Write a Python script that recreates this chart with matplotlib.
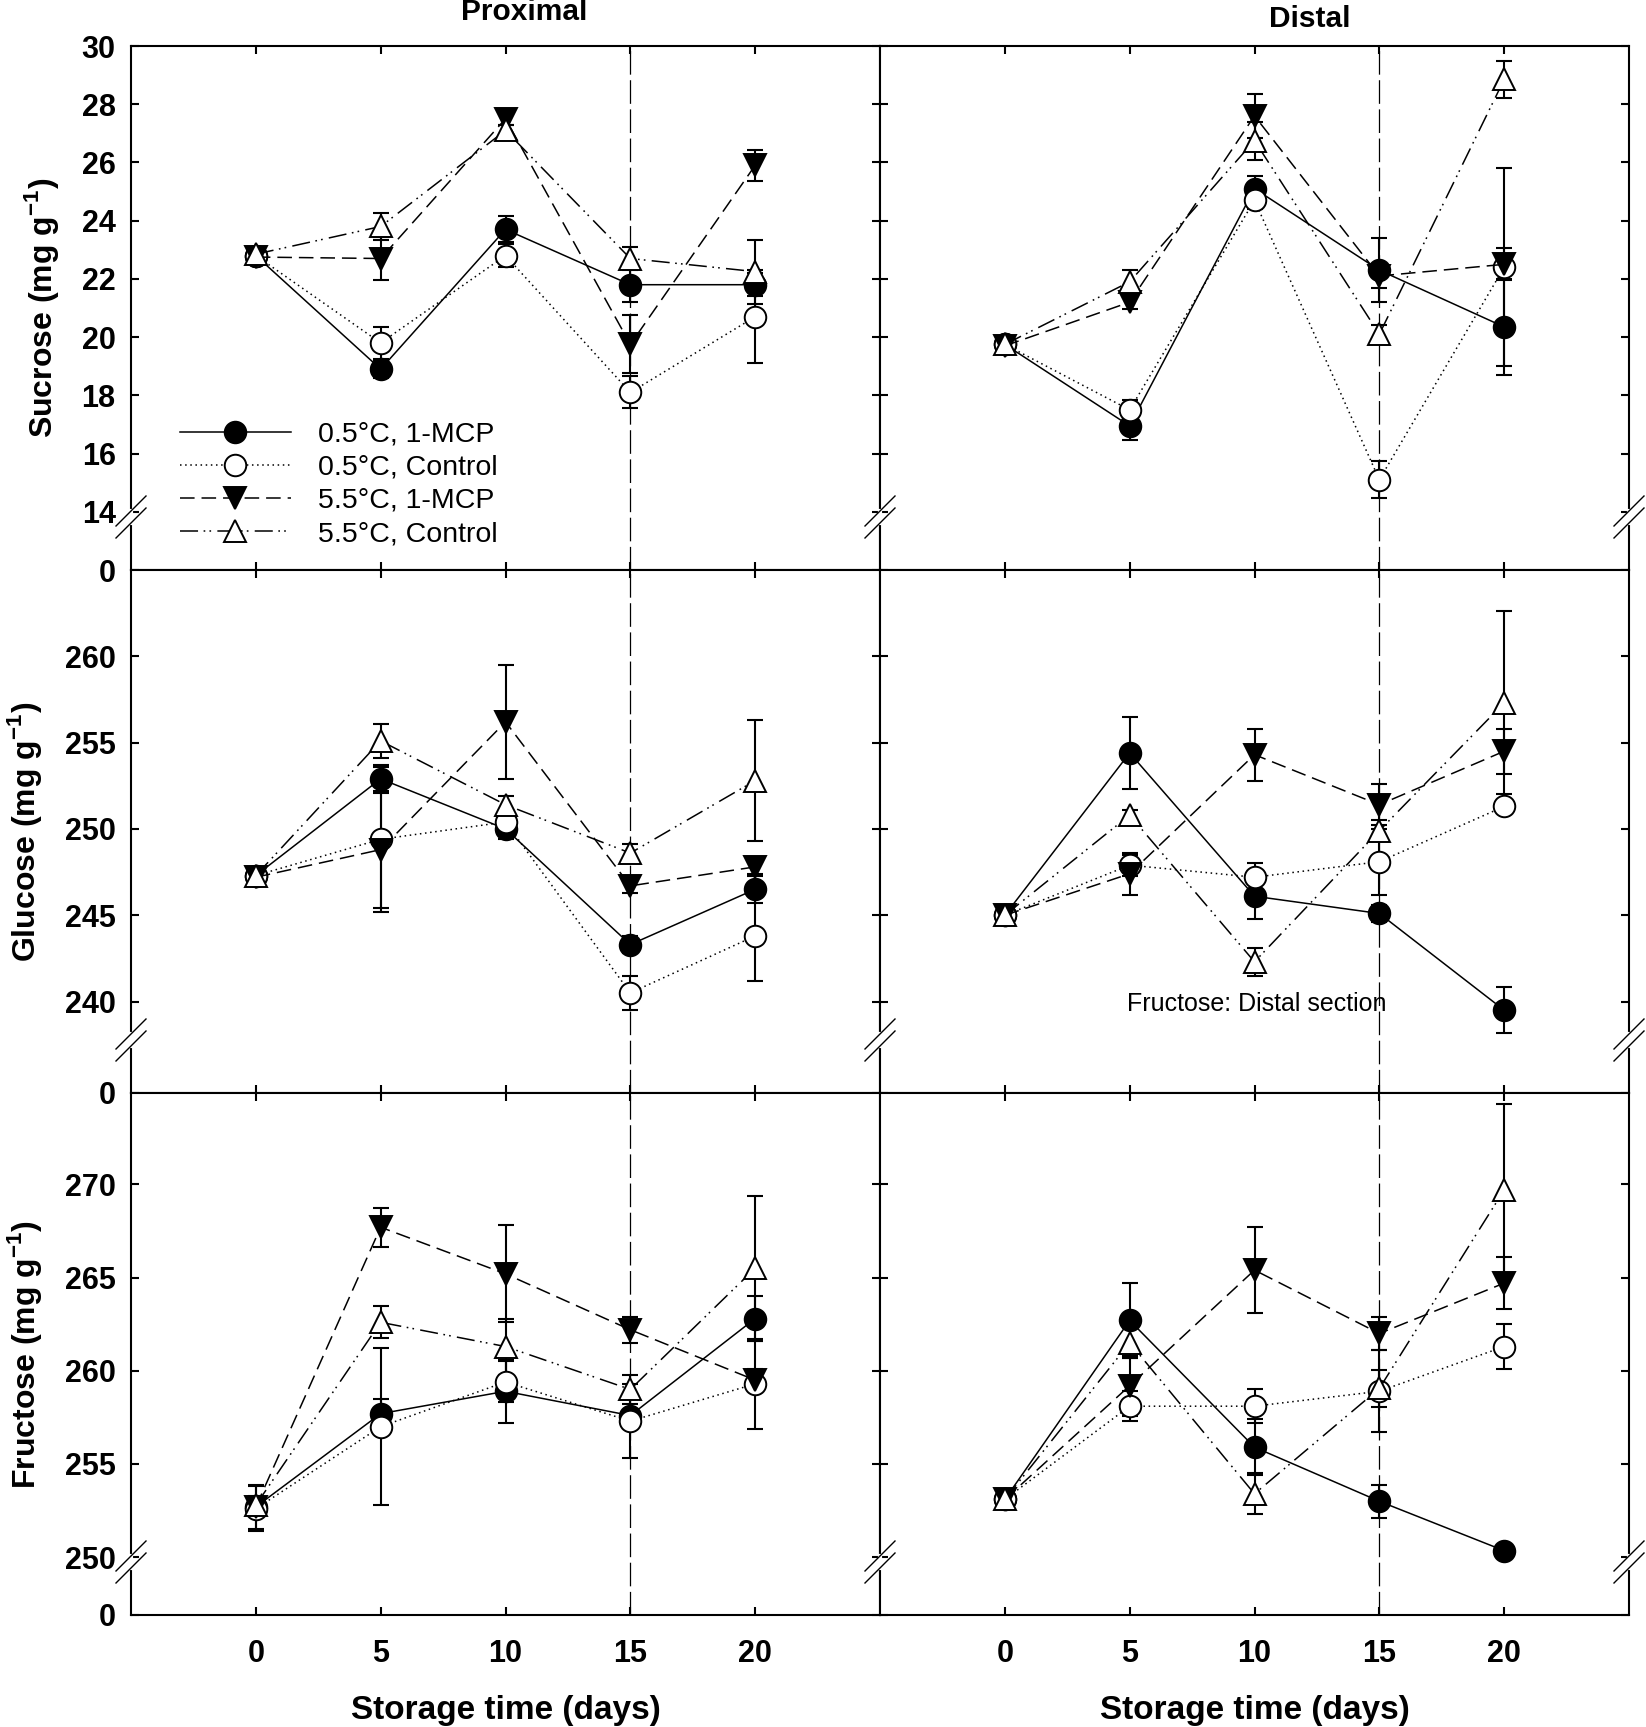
import matplotlib
matplotlib.use('Agg')
import matplotlib.pyplot as plt
from matplotlib.lines import Line2D

plt.rcParams['font.family'] = ['Liberation Sans', 'DejaVu Sans']
plt.rcParams['font.weight'] = 'bold'
plt.rcParams['lines.scale_dashes'] = False
plt.rcParams['mathtext.fontset'] = 'custom'
plt.rcParams['mathtext.rm'] = 'Liberation Sans'
plt.rcParams['mathtext.bf'] = 'Liberation Sans:bold'

# ---------------- data ----------------
days = [0, 5, 10, 15, 20]
series_labels = ["0.5°C, 1-MCP", "0.5°C, Control", "5.5°C, 1-MCP", "5.5°C, Control"]
column_titles = ["Proximal", "Distal"]
row_labels = [r"Sucrose (mg g$^{\mathbf{-1}}$)", r"Glucose (mg g$^{\mathbf{-1}}$)",
              r"Fructose (mg g$^{\mathbf{-1}}$)"]

# Sucrose - proximal
suc_prox_mcp05 = [22.8, 18.9, 23.7, 21.8, 21.8]
suc_prox_mcp05_err = [0.2, 0.3, 0.45, 0.6, 0.4]
suc_prox_ctl05 = [22.8, 19.8, 22.8, 18.1, 20.7]
suc_prox_ctl05_err = [0.2, 0.55, 0.4, 0.55, 1.6]
suc_prox_mcp55 = [22.75, 22.7, 27.5, 19.75, 25.9]
suc_prox_mcp55_err = [0.2, 0.75, 0.2, 1.0, 0.53]
suc_prox_ctl55 = [22.85, 23.8, 27.1, 22.7, 22.25]
suc_prox_ctl55_err = [0.2, 0.45, 0.2, 0.4, 1.1]
# Sucrose - distal
suc_dist_mcp05 = [19.75, 16.95, 25.1, 22.3, 20.35]
suc_dist_mcp05_err = [0.2, 0.5, 0.45, 1.1, 1.65]
suc_dist_ctl05 = [19.75, 17.5, 24.7, 15.1, 22.4]
suc_dist_ctl05_err = [0.2, 0.35, 0.3, 0.63, 3.4]
suc_dist_mcp55 = [19.7, 21.2, 27.6, 22.1, 22.5]
suc_dist_mcp55_err = [0.2, 0.25, 0.75, 0.4, 0.55]
suc_dist_ctl55 = [19.75, 21.9, 26.75, 20.1, 28.85]
suc_dist_ctl55_err = [0.2, 0.4, 0.65, 0.3, 0.65]

# Glucose - proximal
glu_prox_mcp05 = [247.3, 252.9, 250.0, 243.3, 246.5]
glu_prox_mcp05_err = [0.4, 0.8, 0.6, 0.5, 0.8]
glu_prox_ctl05 = [247.3, 249.4, 250.4, 240.5, 243.8]
glu_prox_ctl05_err = [0.4, 4.2, 0.5, 1.0, 2.6]
glu_prox_mcp55 = [247.2, 248.8, 256.2, 246.7, 247.8]
glu_prox_mcp55_err = [0.4, 3.4, 3.3, 0.4, 0.4]
glu_prox_ctl55 = [247.3, 255.1, 251.4, 248.6, 252.8]
glu_prox_ctl55_err = [0.4, 1.0, 0.5, 0.5, 3.5]
# Glucose - distal
glu_dist_mcp05 = [245.0, 254.4, 246.1, 245.1, 239.5]
glu_dist_mcp05_err = [0.3, 2.1, 1.3, 0.5, 1.35]
glu_dist_ctl05 = [245.0, 247.9, 247.2, 248.1, 251.3]
glu_dist_ctl05_err = [0.3, 0.6, 0.8, 1.9, 0.4]
glu_dist_mcp55 = [245.0, 247.4, 254.3, 251.4, 254.5]
glu_dist_mcp55_err = [0.3, 1.2, 1.5, 1.2, 1.3]
glu_dist_ctl55 = [245.0, 250.8, 242.3, 249.9, 257.3]
glu_dist_ctl55_err = [0.3, 0.3, 0.8, 0.6, 5.3]

# Fructose - proximal
fru_prox_mcp05 = [252.7, 257.7, 258.9, 257.6, 262.8]
fru_prox_mcp05_err = [1.2, 0.8, 1.7, 0.3, 1.2]
fru_prox_ctl05 = [252.6, 257.0, 259.4, 257.3, 259.3]
fru_prox_ctl05_err = [1.2, 4.2, 1.1, 2.0, 2.4]
fru_prox_mcp55 = [252.7, 267.7, 265.2, 262.2, 259.5]
fru_prox_mcp55_err = [0.5, 1.05, 2.6, 0.7, 0.6]
fru_prox_ctl55 = [252.8, 262.6, 261.3, 259.0, 265.5]
fru_prox_ctl55_err = [0.5, 0.85, 1.5, 0.8, 3.9]
# Fructose - distal
fru_dist_mcp05 = [253.1, 262.7, 255.9, 253.0, 250.35]
fru_dist_mcp05_err = [0.3, 2.0, 1.5, 0.9, 0.3]
fru_dist_ctl05 = [253.1, 258.1, 258.1, 258.9, 261.3]
fru_dist_ctl05_err = [0.3, 0.8, 0.9, 2.2, 1.2]
fru_dist_mcp55 = [253.1, 259.2, 265.4, 262.0, 264.7]
fru_dist_mcp55_err = [0.3, 1.6, 2.3, 0.9, 1.4]
fru_dist_ctl55 = [253.1, 261.5, 253.4, 259.05, 269.7]
fru_dist_ctl55_err = [0.3, 0.8, 1.1, 1.0, 4.6]

# axis scales (bottom value is shown as "0" on the broken axis)
suc_ylim = (12, 30)
suc_ticks = [12, 14, 16, 18, 20, 22, 24, 26, 28, 30]
suc_ticklabels = ["0", "14", "16", "18", "20", "22", "24", "26", "28", "30"]
glu_ylim = (234.7, 265)
glu_ticks = [234.7, 240, 245, 250, 255, 260]
glu_ticklabels = ["0", "240", "245", "250", "255", "260"]
fru_ylim = (246.9, 274.9)
fru_ticks = [246.9, 250, 255, 260, 265, 270]
fru_ticklabels = ["0", "250", "255", "260", "265", "270"]

# ---------------- assemble ----------------
panels = [
    [  # sucrose
        ([suc_prox_mcp05, suc_prox_ctl05, suc_prox_mcp55, suc_prox_ctl55],
         [suc_prox_mcp05_err, suc_prox_ctl05_err, suc_prox_mcp55_err, suc_prox_ctl55_err]),
        ([suc_dist_mcp05, suc_dist_ctl05, suc_dist_mcp55, suc_dist_ctl55],
         [suc_dist_mcp05_err, suc_dist_ctl05_err, suc_dist_mcp55_err, suc_dist_ctl55_err]),
    ],
    [  # glucose
        ([glu_prox_mcp05, glu_prox_ctl05, glu_prox_mcp55, glu_prox_ctl55],
         [glu_prox_mcp05_err, glu_prox_ctl05_err, glu_prox_mcp55_err, glu_prox_ctl55_err]),
        ([glu_dist_mcp05, glu_dist_ctl05, glu_dist_mcp55, glu_dist_ctl55],
         [glu_dist_mcp05_err, glu_dist_ctl05_err, glu_dist_mcp55_err, glu_dist_ctl55_err]),
    ],
    [  # fructose
        ([fru_prox_mcp05, fru_prox_ctl05, fru_prox_mcp55, fru_prox_ctl55],
         [fru_prox_mcp05_err, fru_prox_ctl05_err, fru_prox_mcp55_err, fru_prox_ctl55_err]),
        ([fru_dist_mcp05, fru_dist_ctl05, fru_dist_mcp55, fru_dist_ctl55],
         [fru_dist_mcp05_err, fru_dist_ctl05_err, fru_dist_mcp55_err, fru_dist_ctl55_err]),
    ],
]
ylims = [suc_ylim, glu_ylim, fru_ylim]
yticks = [suc_ticks, glu_ticks, fru_ticks]
yticklabels = [suc_ticklabels, glu_ticklabels, fru_ticklabels]

styles = [
    dict(ls='-', marker='o', mfc='black'),
    dict(ls=(0, (1.1, 2.6)), marker='o', mfc='white'),
    dict(ls=(0, (10.5, 5)), marker='v', mfc='black'),
    dict(ls=(0, (13, 4, 1.2, 3, 1.2, 4.5)), marker='^', mfc='white'),
]
msizes = [15.5, 15.5, 16, 16]

W, H = 1646, 1727
fig = plt.figure(figsize=(W / 100, H / 100), dpi=100)

col_x = [131 / W, 880 / W]
col_w = [(880 - 131) / W, (1629 - 880) / W]
row_top_px = [46, 570, 1093]
row_bot_px = [570, 1093, 1615]

axes = [[None, None], [None, None], [None, None]]
for r in range(3):
    for c in range(2):
        y0 = 1 - row_bot_px[r] / H
        h = (row_bot_px[r] - row_top_px[r]) / H
        ax = fig.add_axes([col_x[c], y0, col_w[c], h])
        axes[r][c] = ax
        vals, errs = panels[r][c]
        for i in range(4):
            ax.errorbar(days, vals[i], yerr=errs[i], fmt='none', ecolor='black',
                        elinewidth=1.5, capsize=5.5, capthick=1.5, zorder=2)
        for i in range(4):
            st = styles[i]
            ax.plot(days, vals[i], color='black', lw=1.1, ls=st['ls'],
                    marker=st['marker'], ms=msizes[i], mfc=st['mfc'], mec='black',
                    mew=1.4, label=series_labels[i], zorder=3 + i * 0.1)
        ax.axvline(15, color='black', lw=0.9, ls=(0, (17, 4)), zorder=1)
        ax.set_xlim(-5, 25)
        ax.set_ylim(*ylims[r])
        ax.set_xticks(days)
        ax.set_yticks(yticks[r])
        ax.set_yticklabels(yticklabels[r])
        ax.tick_params(direction='in', length=6, width=1.5, top=True, right=True,
                       labelsize=22, pad=11)
        ax.tick_params(axis='x', pad=17)
        for sp in ax.spines.values():
            sp.set_linewidth(1.5)
        if c == 1:
            ax.tick_params(labelleft=False)
        else:
            ax.set_ylabel(row_labels[r], fontsize=23, fontweight='bold', labelpad=15)
        if r < 2:
            ax.tick_params(labelbottom=False)
        else:
            ax.set_xlabel("Storage time (days)", fontsize=24, fontweight='bold', labelpad=19)

# legend in the sucrose proximal panel
leg = axes[0][0].legend(loc='upper left', bbox_to_anchor=(0.065, 0.283), frameon=False,
                        prop={'size': 20.5, 'weight': 'normal'}, handlelength=3.9,
                        handletextpad=0.95, labelspacing=0.25, borderpad=0,
                        borderaxespad=0, numpoints=1)

# annotation in glucose distal panel
axes[1][1].text(4.89, 239.85, "Fructose: Distal section", fontsize=18,
                fontweight='normal', ha='left', va='center')

# column titles
fig.text(524 / W, 1 - 12 / H, column_titles[0], ha='center', va='center',
         fontsize=21.5, fontweight='bold')
fig.text(1310 / W, 1 - 19 / H, column_titles[1], ha='center', va='center',
         fontsize=21.5, fontweight='bold')

# axis-break marks on every vertical spine
def add_break(xpx, ycpx):
    xf = xpx / W
    dx = 15 / W
    dy = 15 / H
    off = 6 / H
    yc = 1 - ycpx / H
    fig.add_artist(Line2D([xf, xf], [yc - off, yc + off], color='white', lw=3,
                          transform=fig.transFigure, zorder=10))
    for s in (off, -off):
        fig.add_artist(Line2D([xf - dx, xf + dx], [yc + s - dy, yc + s + dy],
                              color='black', lw=1.0, transform=fig.transFigure, zorder=11))

for r in range(3):
    yb = row_bot_px[r] - 53
    for xpx in (131, 880, 1629):
        add_break(xpx, yb)

fig.savefig('out.png', dpi=100)
